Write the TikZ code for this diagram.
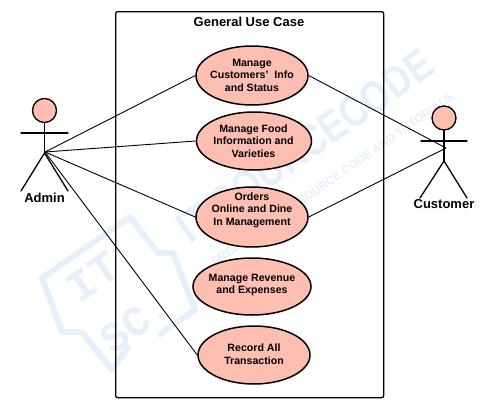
\documentclass[tikz,border=0pt]{standalone}
\usepackage{fontspec}
\usetikzlibrary{shapes.geometric}
\setmainfont{Liberation Sans}
\newfontfamily\logofont{Liberation Mono}
\definecolor{ucfill}{RGB}{255,190,178}
\definecolor{wm}{RGB}{230,240,251}
\begin{document}
\begin{tikzpicture}[x=1pt,y=-1pt,
  ucase/.style={draw=black,line width=1.5pt,fill=ucfill,ellipse,inner sep=0pt},
  uctext/.style={align=center,inner sep=0pt,font=\bfseries\fontsize{10.6}{12.5}\selectfont},
  actorline/.style={draw=black,line width=1.3pt,line cap=round},
  link/.style={draw=black,line width=0.9pt},
  actorname/.style={font=\bfseries\fontsize{13}{15}\selectfont},
  wmtext/.style={text=wm,rotate=35}]
\useasboundingbox (0,0) rectangle (501,415);
\fill[white] (0,0) rectangle (501,415);
% watermark
\node[wmtext,font=\bfseries\fontsize{44}{44}\selectfont,xscale=0.82] (wm1) at (305,146) {IT SOURCECODE};
\node[wmtext,font=\bfseries\fontsize{12}{12}\selectfont,xscale=0.98] (wm2) at (333,180) {FREE PROJECTS, SOURCE CODE AND TUTORIALS};
\node[wmtext,font=\logofont\bfseries\fontsize{44}{44}\selectfont] (wm3) at (93,277) {IT};
\node[wmtext,font=\logofont\bfseries\fontsize{42}{42}\selectfont] (wm4) at (136,322) {SC.};
\draw[wm,line width=6pt,line join=round,line cap=round] (128,347) -- (112,370) -- (82,332) -- (62,332) -- (42,278) -- (130,217) -- (158,253) -- (173,253) -- (195,310) -- (160,334);
% system box
\node[draw=black,line width=1.3pt,rounded corners=2pt,minimum width=268pt,minimum height=386pt,anchor=north west] (sys) at (115,11) {};
\node[font=\bfseries\fontsize{13}{15}\selectfont] (title) at (249,22) {General Use Case};
% use cases
\node[ucase,minimum width=112pt,minimum height=59pt] (uc1) at (252,75.5) {};
\node[uctext] (t1) at (252,75) {Manage\\Customers'\ \ Info\\and Status};
\node[ucase,minimum width=115pt,minimum height=58pt] (uc2) at (254,141) {};
\node[uctext] (t2) at (253.5,141) {Manage Food\\Information and\\Varieties};
\node[ucase,minimum width=112pt,minimum height=60pt] (uc3) at (252,217) {};
\node[uctext] (t3) at (252,210) {Orders\\Online and Dine\\In Management};
\node[ucase,minimum width=118pt,minimum height=57pt] (uc4) at (252,286.5) {};
\node[uctext] (t4) at (252,285) {Manage Revenue\\and Expenses};
\node[ucase,minimum width=112pt,minimum height=58pt] (uc5) at (254,355) {};
\node[uctext] (t5) at (254,354) {Record All\\Transaction};
% admin actor
\coordinate (ahub) at (45,152);
\coordinate (aseat) at (44.5,153);
\coordinate (aarmL) at (21,133);
\coordinate (aarmR) at (68,133);
\coordinate (alegL) at (21,191);
\coordinate (alegR) at (68,191);
\node[draw=black,line width=1.3pt,fill=ucfill,circle,minimum size=24pt,inner sep=0pt] (ahead) at (44.5,110.5) {};
\draw[actorline] (ahead.south) -- (aseat);
\draw[actorline] (aarmL) -- (aarmR);
\draw[actorline] (alegL) -- (aseat) -- (alegR);
\node[actorname] (aname) at (44.5,197.5) {Admin};
% customer actor
\coordinate (chub) at (446,148);
\coordinate (cseat) at (444,161);
\coordinate (carmL) at (421,141);
\coordinate (carmR) at (467,141);
\coordinate (clegL) at (420,198);
\coordinate (clegR) at (467,198);
\node[draw=black,line width=1.3pt,fill=ucfill,circle,minimum size=24pt,inner sep=0pt] (chead) at (444,118) {};
\draw[actorline] (chead.south) -- (cseat);
\draw[actorline] (carmL) -- (carmR);
\draw[actorline] (clegL) -- (cseat) -- (clegR);
\node[actorname] (cname) at (444,204.5) {Customer};
% connectors
\draw[link] (ahub) -- (uc1.west);
\draw[link] (ahub) -- (uc2.west);
\draw[link] (ahub) -- (uc3.west);
\draw[link] (ahub) -- (uc5.west);
\draw[link] (chub) -- (uc1.east);
\draw[link] (chub) -- (uc3.east);
\end{tikzpicture}
\end{document}
